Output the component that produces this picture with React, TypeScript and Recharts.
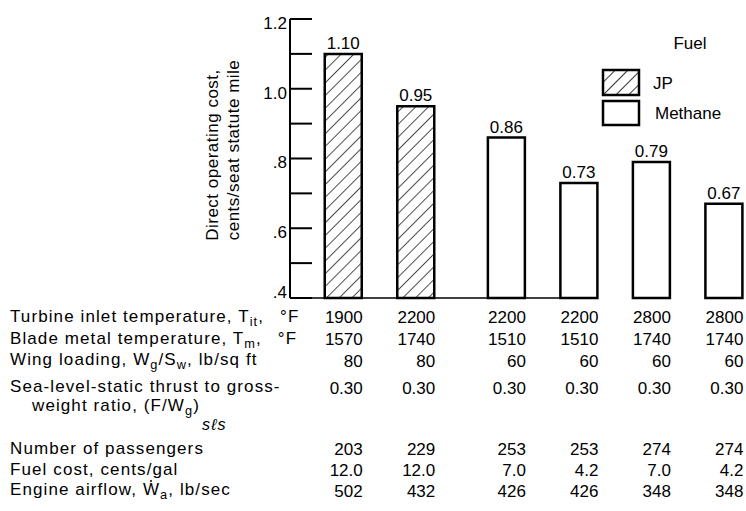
import {
  BarChart,
  Bar,
  XAxis,
  YAxis,
  Cell,
  LabelList,
  ReferenceLine,
} from "recharts";

// one entry per engine / fuel configuration
const fuels = ["JP", "JP", "Methane", "Methane", "Methane", "Methane"];
const slots = [0, 1, 2.25, 3.25, 4.25, 5.25];
const operatingCost = [1.1, 0.95, 0.86, 0.73, 0.79, 0.67];

const turbineInletTemp = [1900, 2200, 2200, 2200, 2800, 2800];
const bladeMetalTemp = [1570, 1740, 1510, 1510, 1740, 1740];
const wingLoading = [80, 80, 60, 60, 60, 60];
const thrustToWeight = [0.3, 0.3, 0.3, 0.3, 0.3, 0.3];
const passengers = [203, 229, 253, 253, 274, 274];
const fuelCost = [12.0, 12.0, 7.0, 4.2, 7.0, 4.2];
const engineAirflow = [502, 432, 426, 426, 348, 348];

const yTicks = [0.4, 0.5, 0.6, 0.7, 0.8, 0.9, 1.0, 1.1, 1.2];

const data = slots.map((pos, i) => ({
  pos,
  fuel: fuels[i],
  cost: operatingCost[i],
  tit: turbineInletTemp[i],
  tm: bladeMetalTemp[i],
  wing: wingLoading[i],
  thrust: thrustToWeight[i],
  pax: passengers[i],
  fuelCost: fuelCost[i],
  airflow: engineAirflow[i],
}));

const FONT = '"Liberation Sans", Arial, sans-serif';
const AXIS_X = 290;

// rows of the table under the chart (text centre y in px)
const tableRows = [
  { key: "tit", y: 317, fmt: (v: number) => String(v) },
  { key: "tm", y: 339, fmt: (v: number) => String(v) },
  { key: "wing", y: 361, fmt: (v: number) => String(v) },
  { key: "thrust", y: 388, fmt: (v: number) => v.toFixed(2) },
  { key: "pax", y: 449, fmt: (v: number) => String(v) },
  { key: "fuelCost", y: 470, fmt: (v: number) => v.toFixed(1) },
  { key: "airflow", y: 491, fmt: (v: number) => String(v) },
];

const sub = { fontSize: "0.75em", verticalAlign: "-0.35em" };

// W with a dot over it (mass flow)
const WDot = () => (
  <span style={{ position: "relative", display: "inline-block" }}>
    W
    <span
      style={{
        position: "absolute",
        left: "50%",
        top: 0,
        width: 2,
        height: 2,
        marginLeft: -1,
        background: "#000",
        borderRadius: 1,
      }}
    />
  </span>
);

const rowLabels = [
  {
    y: 317,
    x: 10,
    node: <>Turbine inlet temperature, T<span style={sub}>it</span>,<span style={{ marginLeft: 16 }}>°F</span></>,
  },
  {
    y: 339,
    x: 10,
    node: <>Blade metal temperature, T<span style={sub}>m</span>,<span style={{ marginLeft: 16 }}>°F</span></>,
  },
  { y: 360, x: 10, node: <>Wing loading, W<span style={sub}>g</span>/S<span style={sub}>w</span>, lb/sq ft</> },
  { y: 387, x: 10, node: <>Sea-level-static thrust to gross-</> },
  {
    y: 406,
    x: 32,
    node: (
      <>
        weight ratio, (F/W<span style={sub}>g</span>)
        <span style={{ fontSize: "0.95em", verticalAlign: "-1.2em", fontStyle: "italic", marginLeft: 2 }}>sℓs</span>
      </>
    ),
  },
  { y: 449, x: 10, node: <>Number of passengers</> },
  { y: 470, x: 10, node: <>Fuel cost, cents/gal</> },
  { y: 490, x: 10, node: <>Engine airflow, <WDot /><span style={sub}>a</span>, lb/sec</> },
];

const YTick = (props: any) => {
  const { y, payload } = props;
  const v = payload.value;
  const labelled = Math.round(v * 10) % 2 === 0;
  const text = v >= 1 ? v.toFixed(1) : "." + Math.round(v * 10);
  const shift = v <= yTicks[0] ? -6 : 4;
  return (
    <g>
      <line x1={AXIS_X} x2={AXIS_X + 22} y1={y} y2={y} stroke="#000" strokeWidth={2} />
      {labelled && (
        <text x={AXIS_X - 3} y={y + shift} dy="0.35em" textAnchor="end" fontSize={17} fontFamily={FONT} fill="#000">
          {text}
        </text>
      )}
    </g>
  );
};

const tableCell = (fmt: (v: number) => string, rowY: number) => (props: any) => {
  const vb = props.viewBox || props;
  const right = Number(vb.x) + Number(vb.width) + 1;
  return (
    <text x={right} y={rowY} dy="0.35em" textAnchor="end" fontSize={17} fontFamily={FONT} fill="#000">
      {fmt(Number(props.value))}
    </text>
  );
};

const FuelLegend = () => (
  <svg width={150} height={105} style={{ position: "absolute", left: 596, top: 25 }}>
    <defs>
      <pattern id="legendHatch" patternUnits="userSpaceOnUse" width="9" height="9" patternTransform="rotate(45)">
        <line x1="0" y1="0" x2="0" y2="9" stroke="#000" strokeWidth="1.6" />
      </pattern>
    </defs>
    <text x={94} y={18} dy="0.35em" textAnchor="middle" fontSize={17} fontFamily={FONT}>Fuel</text>
    <rect x={7} y={45} width={36} height={25} fill="url(#legendHatch)" stroke="#000" strokeWidth={2.5} />
    <text x={57} y={58} dy="0.35em" fontSize={17} fontFamily={FONT}>JP</text>
    <rect x={7} y={76} width={36} height={24} fill="#fff" stroke="#000" strokeWidth={2.5} />
    <text x={59} y={88} dy="0.35em" fontSize={17} fontFamily={FONT}>Methane</text>
  </svg>
);

export default function App() {
  return (
    <div
      style={{
        position: "absolute",
        left: 0,
        top: 0,
        width: 746,
        height: 511,
        background: "#fff",
        fontFamily: FONT,
        color: "#000",
      }}
    >
      <BarChart
        width={746}
        height={511}
        data={data}
        margin={{ top: 19, right: 4, bottom: 213, left: 0 }}
      >
        <defs>
          <pattern id="hatch" patternUnits="userSpaceOnUse" width="9" height="9" patternTransform="rotate(45)">
            <line x1="0" y1="0" x2="0" y2="9" stroke="#000" strokeWidth="1.4" />
          </pattern>
        </defs>
        <XAxis dataKey="pos" type="number" domain={[-0.731, 5.503]} hide />
        <YAxis
          width={AXIS_X}
          domain={[0.4, 1.2]}
          ticks={yTicks}
          interval={0}
          tick={<YTick />}
          tickLine={false}
          tickSize={0}
          axisLine={{ stroke: "#000", strokeWidth: 2 }}
          label={{
            content: () => (
              <g fontSize={17} fontFamily={FONT} fill="#000" letterSpacing={0.5}>
                <text x={212} y={155} textAnchor="middle" dominantBaseline="central" transform="rotate(-90, 212, 155)">
                  Direct operating cost,
                </text>
                <text x={233} y={150} textAnchor="middle" dominantBaseline="central" transform="rotate(-90, 233, 150)">
                  cents/seat statute mile
                </text>
              </g>
            ),
          }}
        />
        <ReferenceLine
          segment={[
            { x: -0.731, y: 0.4 },
            { x: 3.13, y: 0.4 },
          ]}
          stroke="#000"
          strokeWidth={1.5}
          ifOverflow="visible"
        />
        <Bar dataKey="cost" barSize={37} stroke="#000" strokeWidth={2.5} isAnimationActive={false}>
          {data.map((d, i) => (
            <Cell key={`cell-${i}`} fill={d.fuel === "JP" ? "url(#hatch)" : "#fff"} />
          ))}
          <LabelList
            dataKey="cost"
            position="top"
            offset={5}
            formatter={(v: any) => Number(v).toFixed(2)}
            style={{ fontSize: 17, fontFamily: FONT, fill: "#000" }}
          />
          {tableRows.map((r) => (
            <LabelList key={r.key} dataKey={r.key} content={tableCell(r.fmt, r.y)} />
          ))}
        </Bar>
      </BarChart>

      <FuelLegend />

      {rowLabels.map((r, i) => (
        <div
          key={i}
          style={{
            position: "absolute",
            left: r.x,
            top: r.y - 10,
            fontSize: 17,
            lineHeight: "20px",
            letterSpacing: 1.1,
            whiteSpace: "nowrap",
          }}
        >
          {r.node}
        </div>
      ))}
    </div>
  );
}
